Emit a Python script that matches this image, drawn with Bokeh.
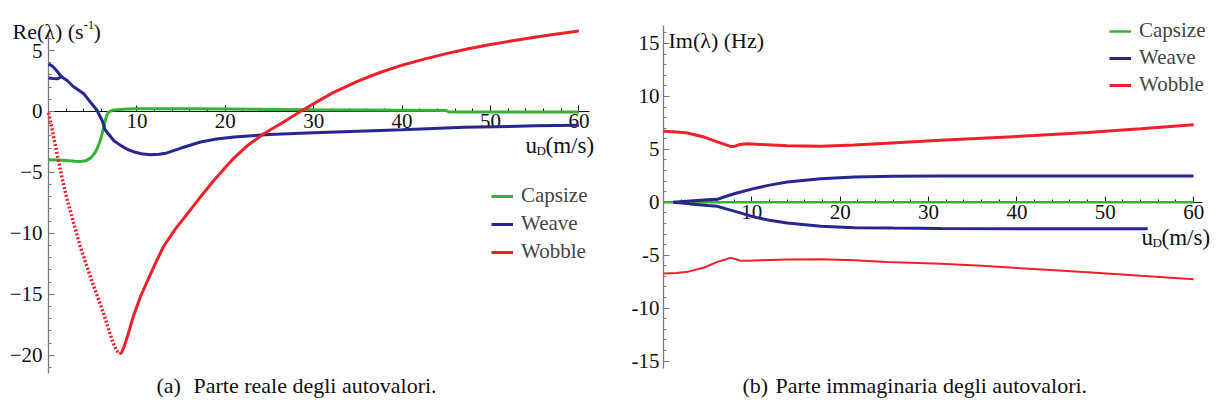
from bokeh.plotting import figure
from bokeh.models import Range1d, FixedTicker, Label, Legend, LegendItem
from bokeh.layouts import row
from bokeh.embed import file_html
from bokeh.resources import INLINE

# ---------------- data ----------------
# (a) real part of eigenvalues, Re(lambda) [1/s] vs u_D [m/s]
cap_re_x = [0, 1, 2, 3, 3.6, 4.2, 4.7, 5.2, 5.5, 5.8, 6.0, 6.2, 6.4, 6.6, 6.8, 7.2, 8, 9, 10, 12, 15, 20,
            25, 30, 35, 40, 45, 45.3, 50, 55, 60]
cap_re_y = [-3.95, -3.98, -4.02, -4.08, -4.1, -4.05, -3.85, -3.45, -3.05, -2.5, -2.0, -1.4, -0.8, -0.3, -0.05,
            0.1, 0.17, 0.2, 0.22, 0.23, 0.22, 0.2, 0.17, 0.14, 0.12, 0.1, 0.08, -0.04, -0.04, -0.04, -0.04]

weave_re_up_x = [0, 0.4, 0.8, 1.2, 1.47]
weave_re_up_y = [3.9, 3.75, 3.45, 3.1, 2.85]
weave_re_x = [0, 0.5, 1.0, 1.47, 2.1, 2.8, 4.0, 5.5, 6.1, 6.4, 7.4, 8.2, 8.9, 9.6, 10.5, 11.5, 12.5, 13.4,
              15.0, 17.2, 19.0, 21.0, 25.0, 30.0, 35.0, 40.0, 47.0, 55.0, 60.0]
weave_re_y = [2.75, 2.7, 2.68, 2.85, 2.54, 2.05, 1.45, 0.08, -0.8, -1.5, -2.4, -2.8, -3.1, -3.3, -3.47, -3.55,
              -3.5, -3.4, -3.0, -2.5, -2.25, -2.1, -1.88, -1.75, -1.62, -1.5, -1.3, -1.18, -1.12]

wob_re_x = [0, 0.5, 1.0, 1.55, 2.1, 2.6, 3.6, 4.9, 6.25, 7.2, 7.7, 8.06, 8.3, 8.6, 9.0, 9.6, 10.4, 11.2, 12.0,
            13.0, 14.3, 15.7, 17.2, 18.7, 20.0, 21.0, 22.5, 24.3, 26.5, 28.5, 30.5, 32.2, 35.0, 37.5, 40.0,
            42.5, 45.0, 47.5, 50.0, 52.5, 55.0, 57.5, 60.0]
wob_re_y = [-0.1, -1.8, -3.6, -5.5, -7.2, -8.5, -11.1, -13.9, -16.6, -18.8, -19.6, -19.9, -19.75, -19.2, -18.3,
            -16.8, -15.2, -13.9, -12.6, -11.1, -9.7, -8.4, -7.0, -5.66, -4.6, -3.8, -2.8, -1.85, -0.9, 0.0, 0.85,
            1.55, 2.5, 3.2, 3.8, 4.3, 4.75, 5.15, 5.5, 5.8, 6.1, 6.35, 6.6]

# (b) imaginary part of eigenvalues, Im(lambda) [Hz] vs u_D [m/s]
cap_im_x = [0, 60]
cap_im_y = [0, 0]

weave_im_up_x = [1.1, 3, 5, 6.1, 7, 8.3, 10.2, 12, 14, 17.8, 21.6, 26, 31.4, 40, 50, 60]
weave_im_up_y = [0, 0.12, 0.24, 0.28, 0.55, 0.88, 1.29, 1.62, 1.92, 2.23, 2.39, 2.45, 2.48, 2.49, 2.49, 2.48]
weave_im_dn_x = [1.1, 3, 5, 6.1, 7, 8.3, 10.2, 12, 14, 17.8, 21.6, 26, 31.4, 40, 50, 54.8]
weave_im_dn_y = [0, -0.15, -0.3, -0.38, -0.6, -0.9, -1.38, -1.7, -1.95, -2.26, -2.4, -2.44, -2.48, -2.49,
                 -2.49, -2.49]

wob_im_x = [0, 1.5, 2.7, 4.6, 6.1, 7.0, 7.6, 8.1, 8.6, 9.5, 11, 14, 17.8, 21.6, 25.3, 31.4, 36, 41.9, 48,
            54, 60]
wob_im_up_y = [6.7, 6.65, 6.54, 6.16, 5.7, 5.45, 5.28, 5.3, 5.45, 5.53, 5.47, 5.35, 5.3, 5.42, 5.58, 5.85,
               6.05, 6.3, 6.6, 6.95, 7.33]
wob_im_dn_y = [-6.73, -6.68, -6.57, -6.16, -5.63, -5.4, -5.25, -5.35, -5.5, -5.53, -5.47, -5.4, -5.38, -5.47,
               -5.63, -5.8, -6.0, -6.3, -6.6, -6.95, -7.26]

series_names = ["Capsize", "Weave", "Wobble"]
re_yticks = [-20, -15, -10, -5, 0, 5]
im_yticks = [-15, -10, -5, 0, 5, 10, 15]
xticks = [10, 20, 30, 40, 50, 60]

# ---------------- styling ----------------
GREEN = "#35b235"
BLUE = "#272790"
RED = "#f0202a"
FONT = "Liberation Serif"
H = 400


class Panel:
    """Maps picture pixels to data coordinates for a panel whose frame fills the whole figure."""

    def __init__(self, fig_left, width, height, ax_left, ax_right, ax_top, ax_bottom, xb, yb):
        self.sx = (ax_right - ax_left) / (xb[1] - xb[0])
        self.sy = (ax_bottom - ax_top) / (yb[1] - yb[0])
        self.ax_left, self.ax_top = ax_left, ax_top
        self.xb, self.yb = xb, yb
        self.fig_left, self.w, self.h = fig_left, width, height

    def xy(self, px, py):
        return self.xb[0] + (px - self.ax_left) / self.sx, self.yb[1] - (py - self.ax_top) / self.sy

    def ranges(self):
        x0, y1 = self.xy(self.fig_left, 0)
        x1, y0 = self.xy(self.fig_left + self.w, self.h)
        return (x0, x1), (y0, y1)


def make_fig(panel):
    xr, yr = panel.ranges()
    p = figure(width=panel.w, height=panel.h, x_range=Range1d(*xr), y_range=Range1d(*yr), title=None,
               toolbar_location=None, output_backend="svg", min_border=0)
    p.outline_line_color = None
    p.grid.visible = False
    p.background_fill_color = "white"
    p.border_fill_color = "white"
    for ax in (p.xaxis[0], p.yaxis[0]):
        ax.fixed_location = 0
        ax.major_tick_in = 6
        ax.major_tick_out = 0
        ax.minor_tick_in = 3
        ax.minor_tick_out = 0
        ax.major_label_text_font = FONT
        ax.major_label_text_font_size = "21px"
        ax.major_label_text_color = "#111111"
    p.xaxis.bounds = tuple(panel.xb)
    p.yaxis.bounds = tuple(panel.yb)
    p.xaxis.axis_line_color = "#111111"
    p.xaxis.major_tick_line_color = "#111111"
    p.xaxis.minor_tick_line_color = "#111111"
    p.yaxis.axis_line_color = "#7a7a7a"
    p.yaxis.major_tick_line_color = "#7a7a7a"
    p.yaxis.minor_tick_line_color = "#7a7a7a"
    p.yaxis.axis_line_width = 1.3
    p.xaxis.ticker = FixedTicker(ticks=xticks, minor_ticks=list(range(2, 62, 2)))
    p.xaxis.major_label_standoff = 3
    return p


def add_text(p, xy, text, size, baseline="alphabetic", align="left"):
    x, y = xy
    p.add_layout(Label(x=x, y=y, text=text, text_font=FONT, text_font_size=size, text_color="#111111",
                       text_baseline=baseline, text_align=align))


# ---------------- panel (a) ----------------
A = Panel(0, 612, H, 48, 589, 33, 373, (0, 61.2), (-21.5, 6.4))
pa = make_fig(A)
pa.yaxis.ticker = FixedTicker(ticks=re_yticks, minor_ticks=list(range(-21, 7)))
pa.yaxis.major_label_overrides = {t: (("\u2212" + str(-t)) if t < 0 else str(t)) for t in re_yticks}
pa.yaxis.major_label_standoff = 6

r_cap = pa.line(cap_re_x, cap_re_y, line_color=GREEN, line_width=3, level="overlay")
pa.line(weave_re_up_x, weave_re_up_y, line_color=BLUE, line_width=3, level="overlay")
r_weave = pa.line(weave_re_x, weave_re_y, line_color=BLUE, line_width=3, level="overlay")
imin = wob_re_y.index(min(wob_re_y))
pa.line(wob_re_x[:imin + 1], wob_re_y[:imin + 1], line_color=RED, line_width=3.5, line_dash="2 2",
        level="overlay")
r_wob = pa.line(wob_re_x[imin:], wob_re_y[imin:], line_color=RED, line_width=3, level="overlay")

pa.add_layout(Legend(items=[LegendItem(label=series_names[0], renderers=[r_cap]),
                            LegendItem(label=series_names[1], renderers=[r_weave]),
                            LegendItem(label=series_names[2], renderers=[r_wob])],
                     location=(491, H - 264), orientation="vertical", padding=0, margin=0,
                     spacing=3, label_text_font=FONT, label_text_font_size="21px", label_height=22,
                     glyph_height=22, glyph_width=22, label_standoff=8, border_line_color=None,
                     background_fill_alpha=0))

add_text(pa, A.xy(12, 31), "Re(\u03bb) (s", "22px")
add_text(pa, A.xy(83, 24), "-1", "13px")
add_text(pa, A.xy(93, 31), ")", "22px")
add_text(pa, A.xy(525, 145), "u", "23px")
add_text(pa, A.xy(536, 150), "D", "13px")
add_text(pa, A.xy(545, 145), "(m/s)", "23px")
add_text(pa, A.xy(156, 385), "(a)", "22px")
add_text(pa, A.xy(193, 385), "Parte reale degli autovalori.", "22px")

# ---------------- panel (b) ----------------
B = Panel(612, 600, H, 663, 1202, 25, 368, (0, 61), (-15.7, 16.7))
pb = make_fig(B)
pb.yaxis.ticker = FixedTicker(ticks=im_yticks, minor_ticks=list(range(-15, 17)))
pb.yaxis.major_label_overrides = {t: str(t) for t in im_yticks}
pb.yaxis.major_label_standoff = 4

r_cap_b = pb.line(cap_im_x, cap_im_y, line_color=GREEN, line_width=2.5, level="overlay")
r_weave_b = pb.line(weave_im_up_x, weave_im_up_y, line_color=BLUE, line_width=3, level="overlay")
pb.line(weave_im_dn_x, weave_im_dn_y, line_color=BLUE, line_width=3, level="overlay")
r_wob_b = pb.line(wob_im_x, wob_im_up_y, line_color=RED, line_width=3, level="overlay")
pb.line(wob_im_x, wob_im_dn_y, line_color=RED, line_width=2, level="overlay")

pb.add_layout(Legend(items=[LegendItem(label=series_names[0], renderers=[r_cap_b]),
                            LegendItem(label=series_names[1], renderers=[r_weave_b]),
                            LegendItem(label=series_names[2], renderers=[r_wob_b])],
                     location=(1109 - 612, H - 97), orientation="vertical", padding=0, margin=0,
                     spacing=2, label_text_font=FONT, label_text_font_size="21px", label_height=22,
                     glyph_height=22, glyph_width=22, label_standoff=8, border_line_color=None,
                     background_fill_alpha=0))

add_text(pb, B.xy(668, 40), "Im(\u03bb) (Hz)", "22px")
add_text(pb, B.xy(1141, 237), "u", "23px")
add_text(pb, B.xy(1152, 242), "D", "13px")
add_text(pb, B.xy(1161, 237), "(m/s)", "23px")
add_text(pb, B.xy(742, 385), "(b)", "22px")
add_text(pb, B.xy(775, 385), "Parte immaginaria degli autovalori.", "22px")

layout = row(pa, pb, spacing=0)
open("out.html", "w").write(file_html(layout, INLINE))
